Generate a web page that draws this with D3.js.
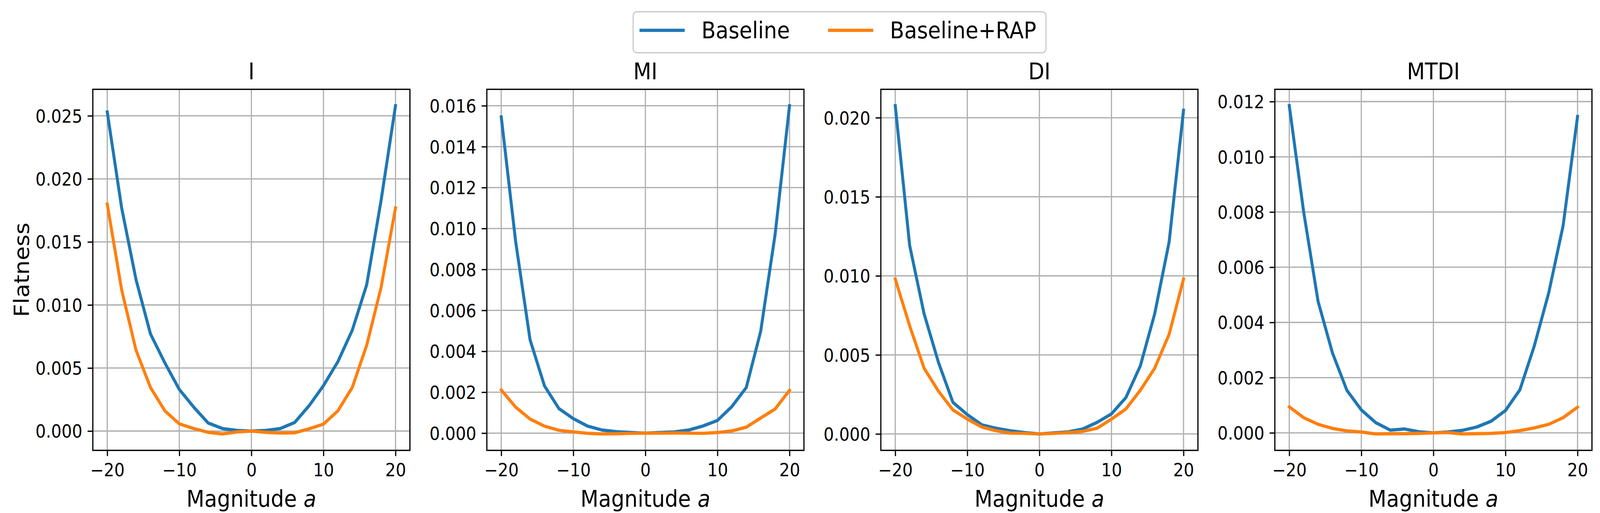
<!DOCTYPE html>
<html>
<head>
<meta charset="utf-8">
<script src="https://cdn.jsdelivr.net/npm/d3@7"></script>
<style>
  html, body { margin: 0; padding: 0; background: #fff; overflow: hidden; }
  svg { display: block; width: 100vw; height: 100vh; }
  text { font-family: "DejaVu Sans", sans-serif; fill: #000; }
</style>
</head>
<body>
<svg id="chart" viewBox="0 0 4473 1313" preserveAspectRatio="none"></svg>
<script>
var w = 4473, h = 1313;

// magnitude a, step 2
var magnitudes = [-20, -18, -16, -14, -12, -10, -8, -6, -4, -2, 0, 2, 4, 6, 8, 10, 12, 14, 16, 18, 20];
var panelTitles = ["I", "MI", "DI", "MTDI"];
var seriesNames = ["Baseline", "Baseline+RAP"];
var seriesColors = ["#1f77b4", "#ff7f0e"];
var xTicks = [-20, -10, 0, 10, 20];

var baselineI = [0.0253, 0.0177, 0.0120, 0.0077, 0.0054, 0.0033, 0.0019, 0.00064, 0.0002, 0.00005, 0, 0.00005, 0.0002, 0.00068, 0.0020, 0.0036, 0.0055, 0.0080, 0.0116, 0.0183, 0.0258];
var rapI = [0.0180, 0.0112, 0.0064, 0.00346, 0.0016, 0.00057, 0.0002, -0.0001, -0.00023, -0.00007, 0, -0.0001, -0.00016, -0.00014, 0.00018, 0.00055, 0.0016, 0.00346, 0.0068, 0.0114, 0.0177];

var baselineMI = [0.01545, 0.00936, 0.00456, 0.00231, 0.0012, 0.00071, 0.00034, 0.00015, 0.00007, 0.00003, 0, 0.00003, 0.00006, 0.00015, 0.00035, 0.00062, 0.0013, 0.00223, 0.00498, 0.00971, 0.0160];
var rapMI = [0.00211, 0.00127, 0.00069, 0.00034, 0.00014, 0.00006, -0.00001, -0.00004, -0.00003, -0.00001, 0, 0, 0.00001, 0, -0.00001, 0.00003, 0.00011, 0.00029, 0.00074, 0.00118, 0.00209];

var baselineDI = [0.02076, 0.01192, 0.0076, 0.00452, 0.0020, 0.00122, 0.00058, 0.00036, 0.0002, 0.00009, 0, 0.00007, 0.00013, 0.00031, 0.00073, 0.00127, 0.0023, 0.0043, 0.0076, 0.01214, 0.02047];
var rapDI = [0.0098, 0.00684, 0.00416, 0.0027, 0.00152, 0.00094, 0.00044, 0.0002, 0.00005, 0.00004, 0, 0.00004, 0.00009, 0.00016, 0.00036, 0.00094, 0.00158, 0.00276, 0.00416, 0.0063, 0.0098];

var baselineMTDI = [0.01185, 0.0080, 0.00476, 0.00289, 0.00154, 0.00083, 0.00037, 0.0001, 0.00014, 0.00004, 0, 0.00003, 0.00009, 0.00021, 0.00042, 0.00081, 0.00156, 0.00315, 0.00507, 0.00751, 0.01146];
var rapMTDI = [0.00094, 0.00055, 0.00031, 0.00016, 0.00007, 0.00003, -0.00004, -0.00003, -0.00003, -0.00002, 0, 0.00001, -0.00004, -0.00003, -0.00002, 0.00001, 0.00008, 0.00018, 0.00031, 0.00055, 0.00093];

var yTicksI = [0, 0.005, 0.010, 0.015, 0.020, 0.025];
var yTicksMI = [0, 0.002, 0.004, 0.006, 0.008, 0.010, 0.012, 0.014, 0.016];
var yTicksDI = [0, 0.005, 0.010, 0.015, 0.020];
var yTicksMTDI = [0, 0.002, 0.004, 0.006, 0.008, 0.010, 0.012];

var panelSeries = [[baselineI, rapI], [baselineMI, rapMI], [baselineDI, rapDI], [baselineMTDI, rapMTDI]];
var panelYTicks = [yTicksI, yTicksMI, yTicksDI, yTicksMTDI];

// layout (px, 300 dpi)
var axTop = 228.6, axBottom = 1152.7;
var axLeft0 = 259.5, axWidth = 886.5, axStep = 1101.5;
var tickFont = 45.8, labelFont = 58.3;
var thin = 3.33, lineW = 8.33, tickLen = 14.6;

var svg = d3.select("#chart");
svg.append("rect").attr("width", w).attr("height", h).attr("fill", "#fff");

// matplotlib style 5% margins
function padded(lo, hi) {
  var r = hi - lo;
  return [lo - 0.05 * r, hi + 0.05 * r];
}

function drawPanel(p) {
  var left = axLeft0 + p * axStep;
  var g = svg.append("g").attr("transform", "translate(" + left + "," + axTop + ")");
  var ih = axBottom - axTop;

  var x = d3.scaleLinear()
    .domain(padded(d3.min(magnitudes), d3.max(magnitudes)))
    .range([0, axWidth]);
  var allVals = d3.merge(panelSeries[p]);
  var y = d3.scaleLinear()
    .domain(padded(d3.min(allVals), d3.max(allVals)))
    .range([ih, 0]);

  // grid
  g.append("g").selectAll("line").data(xTicks).enter().append("line")
    .attr("x1", function (d) { return x(d); })
    .attr("x2", function (d) { return x(d); })
    .attr("y1", 0).attr("y2", ih)
    .attr("stroke", "#b0b0b0").attr("stroke-width", thin);
  g.append("g").selectAll("line").data(panelYTicks[p]).enter().append("line")
    .attr("y1", function (d) { return y(d); })
    .attr("y2", function (d) { return y(d); })
    .attr("x1", 0).attr("x2", axWidth)
    .attr("stroke", "#b0b0b0").attr("stroke-width", thin);

  // series lines
  var line = d3.line()
    .x(function (d, i) { return x(magnitudes[i]); })
    .y(function (d) { return y(d); });
  panelSeries[p].forEach(function (vals, s) {
    g.append("path")
      .datum(vals)
      .attr("d", line)
      .attr("fill", "none")
      .attr("stroke", seriesColors[s])
      .attr("stroke-width", lineW)
      .attr("stroke-linejoin", "round")
      .attr("stroke-linecap", "square");
  });

  // axes
  var xAxis = g.append("g")
    .attr("transform", "translate(0," + ih + ")")
    .call(d3.axisBottom(x).tickValues(xTicks).tickSizeInner(tickLen).tickSizeOuter(0).tickPadding(19).tickFormat(d3.format("d")));
  var yAxis = g.append("g")
    .call(d3.axisLeft(y).tickValues(panelYTicks[p]).tickSizeInner(tickLen).tickSizeOuter(0).tickPadding(14.6).tickFormat(d3.format(".3f")));
  [xAxis, yAxis].forEach(function (ax) {
    ax.select(".domain").remove();
    ax.selectAll(".tick line").attr("stroke", "#000").attr("stroke-width", thin);
    ax.selectAll(".tick text")
      .attr("font-family", "DejaVu Sans")
      .attr("font-size", tickFont + "px")
      .attr("fill", "#000");
  });
  yAxis.selectAll(".tick text").attr("dy", "0.365em");

  // spines
  g.append("rect")
    .attr("width", axWidth).attr("height", ih)
    .attr("fill", "none").attr("stroke", "#000").attr("stroke-width", thin);

  // title
  g.append("text")
    .attr("x", axWidth / 2).attr("y", -25.5)
    .attr("text-anchor", "middle")
    .attr("font-size", labelFont + "px")
    .text(panelTitles[p]);

  // x label
  var xl = g.append("text")
    .attr("x", axWidth / 2).attr("y", ih + 144.5)
    .attr("text-anchor", "middle")
    .attr("font-size", labelFont + "px");
  xl.append("tspan").text("Magnitude ");
  xl.append("tspan").attr("font-style", "italic").text("a");

  if (p === 0) {
    g.append("text")
      .attr("transform", "translate(" + (81 - left) + "," + ih / 2 + ") rotate(-90)")
      .attr("text-anchor", "middle")
      .attr("font-size", labelFont + "px")
      .text("Flatness");
  }
}

for (var p = 0; p < panelTitles.length; p++) {
  drawPanel(p);
}

// legend
function drawLegend() {
  var lx = 1770, ly = 30, lh = 105;
  var frame = svg.append("rect")
    .attr("x", lx).attr("y", ly).attr("height", lh)
    .attr("rx", 11).attr("ry", 11)
    .attr("fill", "#fff").attr("fill-opacity", 0.8)
    .attr("stroke", "#cccccc").attr("stroke-width", thin);
  var cx = lx + 22;
  var cy = ly + 47.7;
  seriesNames.forEach(function (name, i) {
    svg.append("line")
      .attr("x1", cx).attr("x2", cx + 118)
      .attr("y1", cy).attr("y2", cy)
      .attr("stroke", seriesColors[i]).attr("stroke-width", lineW)
      .attr("stroke-linecap", "square");
    var t = svg.append("text")
      .attr("x", cx + 169).attr("y", ly + 68.3)
      .attr("font-size", labelFont + "px")
      .text(name);
    var tl = t.node().getComputedTextLength();
    cx = cx + 169 + tl + (i < seriesNames.length - 1 ? 111 : 27);
  });
  frame.attr("width", cx - lx);
}
drawLegend();
</script>
</body>
</html>
